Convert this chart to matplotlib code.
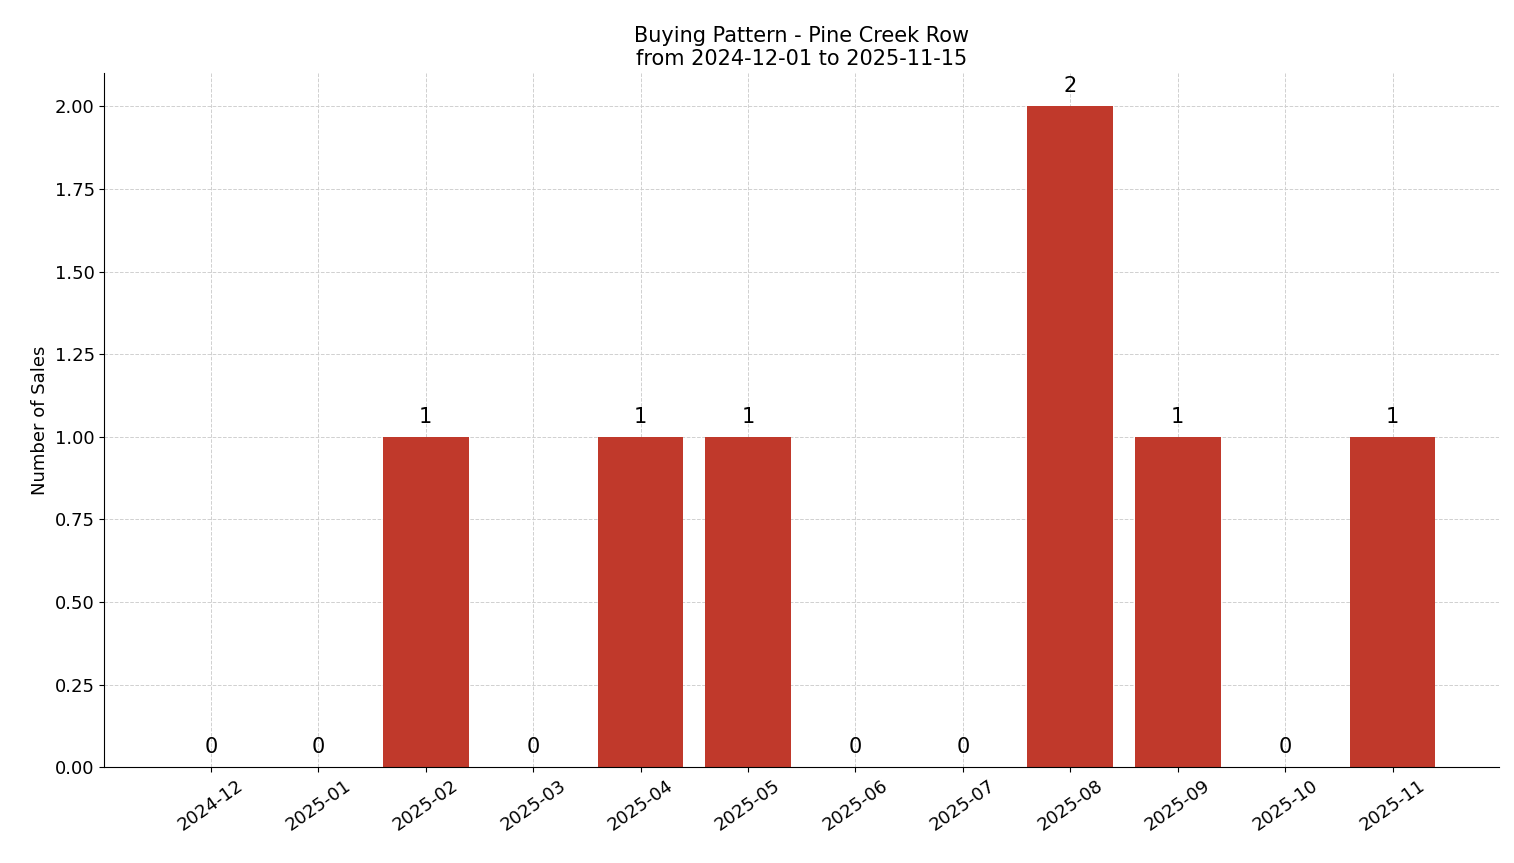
import matplotlib
matplotlib.use("Agg")
import matplotlib.pyplot as plt

months = ["2024-12", "2025-01", "2025-02", "2025-03", "2025-04", "2025-05",
          "2025-06", "2025-07", "2025-08", "2025-09", "2025-10", "2025-11"]
sales = [0, 0, 1, 0, 1, 1, 0, 0, 2, 1, 0, 1]

fig, ax = plt.subplots(figsize=(15.14, 8.63), dpi=100)
x = list(range(len(months)))
bars = ax.bar(x, sales, width=0.8, color="#c0392b", zorder=2)
for xi, v in zip(x, sales):
    ax.text(xi, v + 0.03, str(v), ha="center", va="bottom", fontsize=15)

ax.set_xticks(x)
ax.set_xticklabels(months, rotation=35, fontsize=13)
ax.tick_params(axis="y", labelsize=13)
ax.set_ylabel("Number of Sales", fontsize=13)
ax.set_title("Buying Pattern - Pine Creek Row\nfrom 2024-12-01 to 2025-11-15", fontsize=15)
ax.yaxis.set_major_formatter(matplotlib.ticker.FormatStrFormatter("%.2f"))
ax.grid(True, linestyle="--", color="#d0d0d0", linewidth=0.7, zorder=0)
ax.spines["top"].set_visible(False)
ax.spines["right"].set_visible(False)
ax.set_axisbelow(True)

fig.subplots_adjust(left=0.069, right=0.990, top=0.915, bottom=0.111)
fig.savefig("out.png", dpi=100)
